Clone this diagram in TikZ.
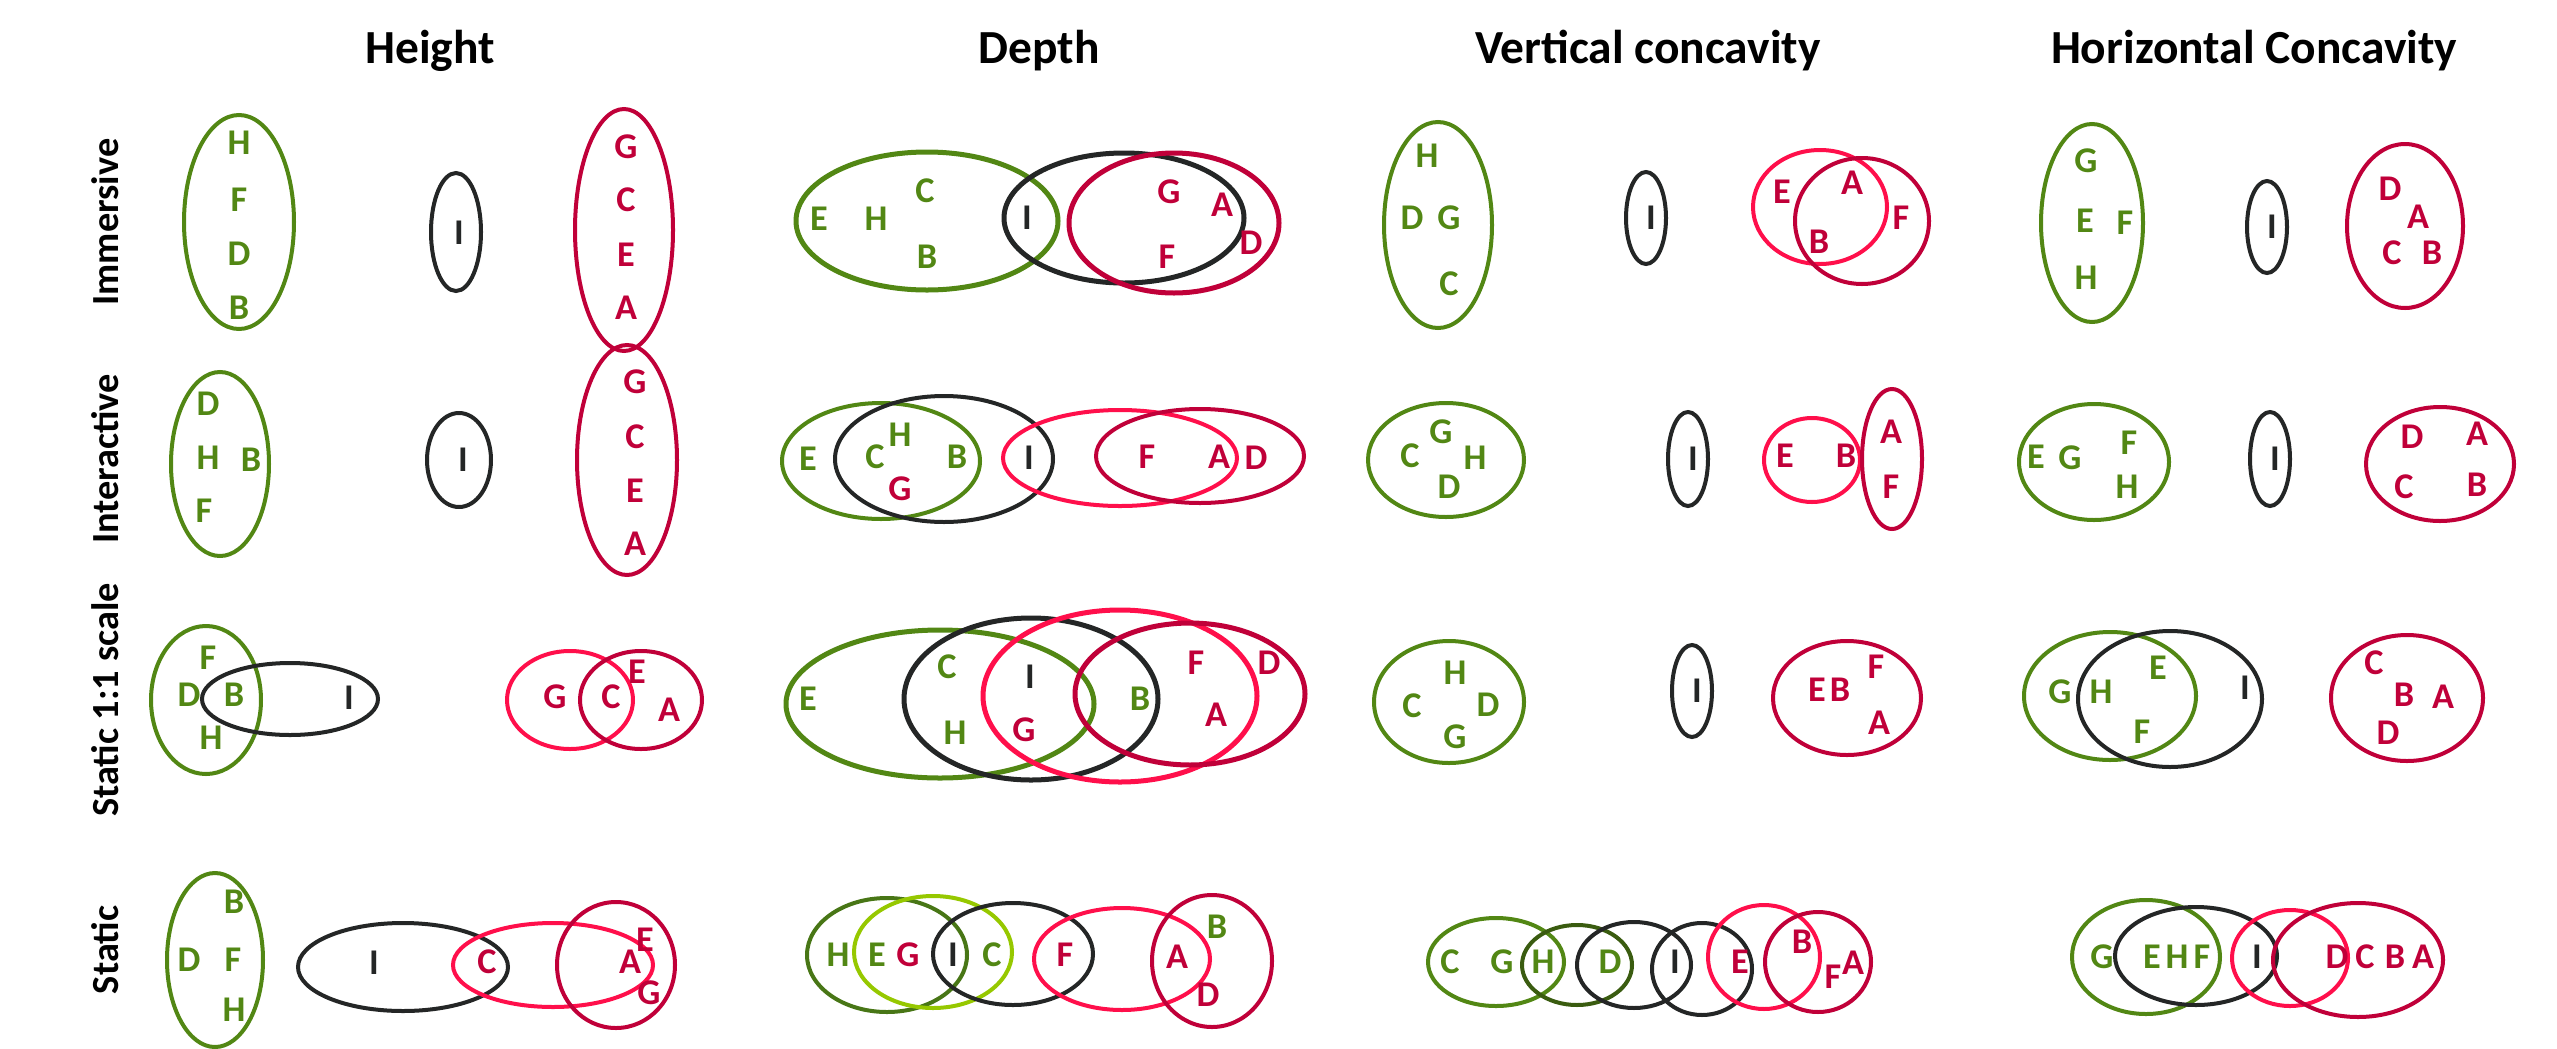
\documentclass[tikz,border=0pt]{standalone}
\usepackage{fontspec}
\setmainfont{Carlito}
\definecolor{cgreen}{RGB}{82,135,20}
\definecolor{cmgreen}{RGB}{72,118,22}
\definecolor{cdgreen}{RGB}{58,92,16}
\definecolor{clime}{RGB}{150,200,0}
\definecolor{ccrim}{RGB}{192,0,57}
\definecolor{cpink}{RGB}{255,15,75}
\definecolor{cblack}{RGB}{36,38,38}
\newcommand{\vset}[5]{\draw[#1] (#2,#3) ellipse [x radius=#4, y radius=#5];}
\begin{document}
\begin{tikzpicture}[x=0.01cm,y=-0.01cm,
  ring/.style={line width=0.04cm},
  thick ring/.style={line width=0.05cm},
  eg/.style={ring,draw=cgreen},
  emg/.style={ring,draw=cmgreen},
  edg/.style={ring,draw=cdgreen},
  elg/.style={ring,draw=clime},
  er/.style={ring,draw=ccrim},
  ep/.style={ring,draw=cpink},
  ek/.style={ring,draw=cblack},
  letter/.style={inner sep=0pt,font=\fontsize{10.3pt}{12pt}\selectfont\bfseries},
  lg/.style={letter,text=cgreen},
  lr/.style={letter,text=ccrim},
  lk/.style={letter,text=cblack},
  title/.style={anchor=base,inner sep=0pt,font=\fontsize{13.5pt}{15pt}\selectfont\bfseries},
  rowlab/.style={rotate=90,inner sep=0pt,font=\fontsize{10.9pt}{13pt}\selectfont\bfseries}]
\useasboundingbox (0,0) rectangle (2557,1048);
% titles
\node[title] (tH) at (430,63) {Height};
\node[title] (tD) at (1039,63) {Depth};
\node[title] (tV) at (1648,63) {Vertical concavity};
\node[title] (tC) at (2254,63) {Horizontal Concavity};
% row labels
\node[rowlab] (r1) at (105,222) {Immersive};
\node[rowlab] (r2) at (105,459) {Interactive};
\node[rowlab] (r3) at (105,700) {Static 1:1 scale};
\node[rowlab] (r4) at (105,950) {Static};

% ===== Row 1: Immersive =====
% Height
\vset{eg}{239}{222}{55}{107}
\node[lg] at (239,143) {H}; \node[lg] at (239,200) {F}; \node[lg] at (239,254) {D}; \node[lg] at (239,308) {B};
\vset{ek}{456}{232}{25}{59}
\node[lk] at (459,233) {I};
\vset{er}{624}{230}{49}{121}
\node[lr] at (626,147) {G}; \node[lr] at (626,200) {C}; \node[lr] at (626,255) {E}; \node[lr] at (626,308) {A};
% Depth
\vset{eg,thick ring}{927}{221}{131}{69}
\vset{ek,thick ring}{1124}{218}{120}{65}
\vset{er,thick ring}{1174}{223}{105}{70}
\node[lg] at (819,219) {E}; \node[lg] at (876,219) {H}; \node[lg] at (925,191) {C}; \node[lg] at (927,257) {B};
\node[lk] at (1027,218) {I};
\node[lr] at (1169,192) {G}; \node[lr] at (1222,205) {A}; \node[lr] at (1251,243) {D}; \node[lr] at (1167,257) {F};
% Vertical concavity
\vset{eg}{1438}{225}{54}{103}
\node[lg] at (1427,156) {H}; \node[lg] at (1412,218) {D}; \node[lg] at (1449,218) {G}; \node[lg] at (1449,284) {C};
\vset{ek}{1646}{218}{20}{46}
\node[lk] at (1651,218) {I};
\vset{ep}{1820}{207}{67}{57}
\vset{er}{1862}{221}{67}{63}
\node[lr] at (1782,192) {E}; \node[lr] at (1852,183) {A}; \node[lr] at (1819,242) {B}; \node[lr] at (1901,218) {F};
% Horizontal concavity
\vset{eg}{2092}{223}{51}{99}
\node[lg] at (2086,161) {G}; \node[lg] at (2085,221) {E}; \node[lg] at (2125,223) {F}; \node[lg] at (2086,278) {H};
\vset{ek}{2267}{227}{20}{46}
\node[lk] at (2272,227) {I};
\vset{er}{2405}{226}{58}{82}
\node[lr] at (2390,189) {D}; \node[lr] at (2418,217) {A}; \node[lr] at (2392,253) {C}; \node[lr] at (2432,253) {B};

% ===== Row 2: Interactive =====
\vset{eg}{220}{464}{49}{92}
\node[lg] at (208,404) {D}; \node[lg] at (208,458) {H}; \node[lg] at (251,460) {B}; \node[lg] at (204,511) {F};
\vset{ek}{459}{460}{32}{47}
\node[lk] at (463,460) {I};
\vset{er}{627}{460}{50}{115}
\node[lr] at (635,382) {G}; \node[lr] at (635,437) {C}; \node[lr] at (635,491) {E}; \node[lr] at (635,544) {A};
% Depth
\vset{eg}{881}{461}{99}{58}
\vset{ek}{944}{459}{109}{63}
\vset{ep}{1120}{458}{117}{48}
\vset{er}{1200}{456}{104}{47}
\node[lg] at (808,459) {E}; \node[lg] at (875,457) {C}; \node[lg] at (900,435) {H}; \node[lr] at (900,489) {G}; \node[lg] at (957,457) {B};
\node[lk] at (1029,458) {I};
\node[lr] at (1147,457) {F}; \node[lr] at (1219,457) {A}; \node[lr] at (1256,458) {D};
% Vertical concavity
\vset{eg}{1446}{460}{78}{57}
\node[lg] at (1441,432) {G}; \node[lg] at (1410,456) {C}; \node[lg] at (1475,458) {H}; \node[lg] at (1449,487) {D};
\vset{ek}{1688}{459}{20}{47}
\node[lk] at (1693,459) {I};
\vset{ep}{1812}{460}{48}{42}
\node[lr] at (1785,456) {E}; \node[lr] at (1846,456) {B};
\vset{er}{1892}{459}{30}{70}
\node[lr] at (1891,432) {A}; \node[lr] at (1891,487) {F};
% Horizontal concavity
\vset{eg}{2094}{462}{75}{58}
\node[lg] at (2036,457) {E}; \node[lg] at (2070,458) {G}; \node[lg] at (2129,443) {F}; \node[lg] at (2127,487) {H};
\vset{ek}{2270}{459}{20}{47}
\node[lk] at (2275,459) {I};
\vset{er}{2440}{464}{74}{57}
\node[lr] at (2412,437) {D}; \node[lr] at (2477,434) {A}; \node[lr] at (2404,487) {C}; \node[lr] at (2477,485) {B};

% ===== Row 3: Static 1:1 scale =====
\vset{eg}{206}{700}{55}{74}
\vset{ek}{290}{699}{88}{36}
\node[lg] at (208,658) {F}; \node[lg] at (189,695) {D}; \node[lg] at (234,695) {B}; \node[lg] at (211,738) {H};
\node[lk] at (349,698) {I};
\vset{ep}{570}{700}{63}{49}
\vset{er}{641}{700}{61}{49}
\node[lr] at (555,697) {G}; \node[lr] at (611,697) {C}; \node[lr] at (637,672) {E}; \node[lr] at (669,710) {A};
% Depth
\vset{eg,thick ring}{940}{704}{154}{74}
\vset{ek,thick ring}{1031}{699}{127}{81}
\vset{ep,thick ring}{1120}{696}{137}{86}
\vset{er,thick ring}{1190}{694}{115}{71}
\node[lg] at (808,699) {E}; \node[lg] at (947,667) {C}; \node[lg] at (955,733) {H}; \node[lg] at (1140,699) {B};
\node[lk] at (1030,677) {I};
\node[lr] at (1024,730) {G}; \node[lr] at (1196,663) {F}; \node[lr] at (1216,715) {A}; \node[lr] at (1269,663) {D};
% Vertical concavity
\vset{eg}{1449}{702}{75}{61}
\node[lg] at (1455,673) {H}; \node[lg] at (1412,706) {C}; \node[lg] at (1488,705) {D}; \node[lg] at (1455,737) {G};
\vset{ek}{1692}{691}{20}{46}
\node[lk] at (1697,691) {I};
\vset{er}{1847}{698}{74}{57}
\node[lr] at (1817,690) {E}; \node[lr] at (1840,690) {B}; \node[lr] at (1876,667) {F}; \node[lr] at (1879,723) {A};
% Horizontal concavity
\vset{eg}{2110}{696}{86}{64}
\vset{ek}{2170}{699}{92}{68}
\node[lg] at (2060,692) {G}; \node[lg] at (2101,692) {H}; \node[lg] at (2158,668) {E}; \node[lg] at (2142,732) {F};
\node[lk] at (2245,688) {I};
\vset{er}{2407}{698}{76}{63}
\node[lr] at (2374,663) {C}; \node[lr] at (2404,695) {B}; \node[lr] at (2443,697) {A}; \node[lr] at (2388,733) {D};

% ===== Row 4: Static =====
\vset{eg}{215}{960}{48}{87}
\node[lg] at (234,902) {B}; \node[lg] at (189,960) {D}; \node[lg] at (233,960) {F}; \node[lg] at (234,1010) {H};
\vset{ek}{403}{967}{105}{44}
\node[lk] at (374,963) {I};
\vset{ep}{553}{965}{100}{42}
\vset{er}{616}{965}{59}{63}
\node[lr] at (487,962) {C}; \node[lr] at (645,940) {E}; \node[lr] at (630,962) {A}; \node[lr] at (649,993) {G};
% Depth
\vset{emg}{887}{955}{80}{57}
\vset{elg}{933}{952}{79}{56}
\vset{ek}{1013}{954}{80}{51}
\vset{ep}{1122}{959}{88}{51}
\vset{er}{1212}{961}{60}{66}
\node[lg] at (838,955) {H}; \node[lg] at (877,955) {E}; \node[lr] at (908,955) {G}; \node[lk] at (953,955) {I}; \node[lg] at (992,955) {C};
\node[lr] at (1065,955) {F}; \node[lr] at (1177,957) {A}; \node[lg] at (1217,927) {B}; \node[lr] at (1208,995) {D};
% Vertical concavity
\vset{eg}{1496}{962}{68}{44}
\vset{edg}{1577}{965}{55}{40}
\vset{ek}{1634}{965}{57}{43}
\vset{ek}{1702}{969}{50}{46}
\vset{ep}{1764}{957}{56}{52}
\vset{er}{1818}{962}{53}{50}
\node[lg] at (1450,962) {C}; \node[lg] at (1502,962) {G}; \node[lg] at (1543,962) {H}; \node[lg] at (1610,962) {D};
\node[lk] at (1675,962) {I}; \node[lr] at (1740,962) {E};
\node[lr] at (1802,942) {B}; \node[lr] at (1833,977) {F}; \node[lr] at (1853,963) {A};
% Horizontal concavity
\vset{eg}{2146}{957}{74}{57}
\vset{ek}{2196}{956}{81}{49}
\vset{ep}{2290}{958}{58}{48}
\vset{er}{2358}{960}{85}{57}
\node[lg] at (2102,957) {G}; \node[lg] at (2152,957) {E}; \node[lg] at (2177,957) {H}; \node[lg] at (2202,957) {F};
\node[lk] at (2257,957) {I};
\node[lr] at (2337,957) {D}; \node[lr] at (2365,957) {C}; \node[lr] at (2395,957) {B}; \node[lr] at (2423,957) {A};
\end{tikzpicture}
\end{document}
